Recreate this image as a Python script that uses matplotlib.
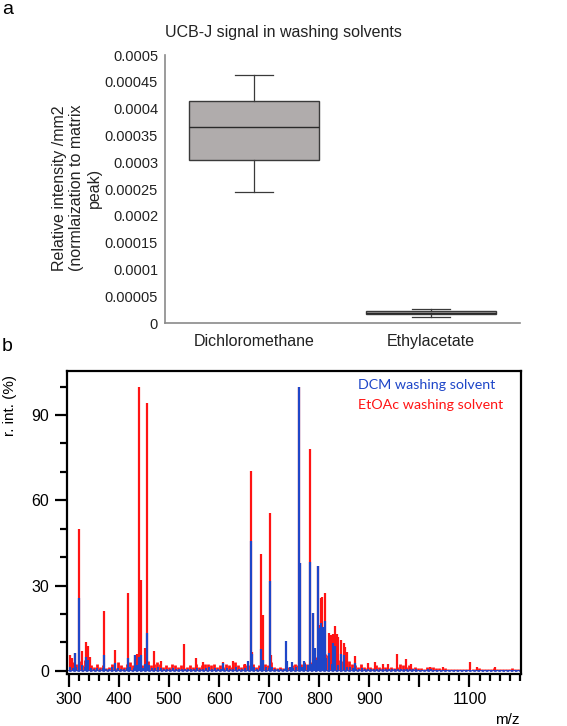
import numpy as np
import matplotlib
matplotlib.use("Agg")
import matplotlib.pyplot as plt
from matplotlib.ticker import MultipleLocator, FixedLocator, FuncFormatter

plt.rcParams['font.family'] = ['Liberation Sans', 'DejaVu Sans']

# ---- panel a: box plot stats
solvents = ['Dichloromethane', 'Ethylacetate']
whislo = [0.000244, 0.0000118]
q1 = [0.000304, 0.0000162]
med = [0.000366, 0.0000195]
q3 = [0.000414, 0.0000224]
whishi = [0.000463, 0.0000256]

# ---- panel b: spectrum peaks (m/z, r. int. %)
dcm_mz = [313, 320.7, 334.7, 338, 370, 393, 419, 431, 440, 443, 451, 456.7,
          608, 658, 663, 666, 684, 686.7, 700.7, 732.7, 736, 745, 758.7, 762,
          770, 782, 787.3, 791, 796.7, 801, 804, 808, 811.3, 819, 827, 831,
          842.7, 849, 872]
dcm_int = [6.4, 25.5, 5.0, 4.0, 5.6, 2.7, 4.5, 5.6, 5.0, 5.5, 2.5, 13.2,
           2.9, 3.6, 45.7, 6.0, 7.7, 4.0, 31.6, 10.5, 3.5, 3.3, 100, 38,
           3.5, 38.4, 20.3, 8.0, 36.8, 15.0, 16.8, 15.5, 17.6, 6.2, 9.7, 8.9,
           5.9, 5.6, 2.7]

etoac_mz = [302.7, 306, 313, 320.7, 326.7, 334.7, 338, 342, 370, 393, 419, 431,
            435, 440, 443.3, 451, 456.7, 469.3, 484, 530, 553, 568, 608, 628,
            651, 663, 666, 684, 686.7, 700.7, 704, 758.7, 762, 782, 787.3, 796.7,
            801, 804, 806, 811.3, 819, 823, 827, 831, 835, 838, 842.7, 849,
            852, 855, 872, 898, 910.7, 926.7, 936.7, 956, 973, 982.7, 1021,
            1048, 1100.7, 1114.7, 1150]
etoac_int = [5.6, 4.5, 6.4, 49.8, 7.0, 10.3, 8.6, 5.0, 21.2, 7.4, 27.5, 5.6,
             6.0, 100, 31.8, 8.1, 94.3, 7.0, 3.6, 9.4, 4.5, 3.3, 3.3, 3.6,
             2.5, 70.4, 6.5, 41.1, 19.6, 55.4, 5.5, 100, 38, 78.2, 20.3, 36.8,
             16.0, 25.8, 26.0, 27.5, 13.2, 12.5, 13.0, 15.8, 13.0, 12.0, 10.9, 9.7,
             8.5, 6.8, 5.4, 2.9, 3.2, 2.5, 2.5, 6.0, 4.2, 2.3, 1.5,
             1.2, 3.3, 1.2, 1.5]

# small baseline peaks, one every 6 m/z from 302
noise_start, noise_step = 302, 6
etoac_noise = [4.5, 3.0, 2.5, 3.5, 2.0, 4.0, 3.5, 2.0, 1.5, 2.5,
               1.5, 2.0, 1.0, 1.5, 2.5, 1.0, 3.0, 2.0, 1.5, 2.5,
               3.0, 2.0, 4.5, 3.5, 2.0, 2.5, 3.5, 2.0, 2.5, 3.0,
               2.5, 1.5, 2.0, 1.5, 2.5, 2.0, 1.5, 2.0, 1.0, 1.5,
               2.0, 1.5, 2.5, 1.5, 2.0, 2.5, 2.5, 2.0, 2.5, 1.5,
               2.0, 1.5, 2.5, 2.0, 1.5, 3.0, 2.0, 1.5, 2.5, 2.0,
               2.0, 2.5, 1.5, 2.0, 1.5, 2.5, 2.0, 3.0, 1.5, 1.0,
               1.5, 1.0, 2.0, 1.5, 2.0, 2.5, 2.0, 2.5, 3.0, 2.5,
               3.0, 4.0, 5.0, 4.5, 5.0, 6.0, 5.5, 4.0, 5.0, 4.5,
               4.0, 3.5, 3.0, 3.5, 2.5, 2.0, 1.5, 2.5, 1.5, 1.0,
               1.5, 1.0, 2.0, 1.5, 1.0, 1.5, 1.0, 1.5, 1.0, 1.5,
               2.5, 2.0, 1.5, 2.0, 1.0, 1.5, 1.0, 1.0, 0.8, 1.5,
               1.5, 1.2, 1.0, 1.0, 0.8, 1.0, 0.6, 0.8, 0.7, 0.5,
               0.6, 0.5, 0.8, 0.7, 0.6, 0.8, 1.0, 0.6, 0.5, 0.7,
               0.8, 1.0, 0.6, 0.5, 0.7, 0.8, 0.6, 0.9, 0.7, 0.6]
dcm_noise = [1.5, 1.0, 1.5, 1.0, 2.0, 1.5, 2.5, 1.0, 0.8, 1.0,
             0.8, 1.0, 0.5, 0.8, 1.5, 0.6, 1.0, 0.8, 0.6, 1.0,
             1.5, 1.0, 2.0, 2.5, 1.0, 1.5, 2.0, 1.0, 1.0, 1.5,
             1.0, 0.6, 0.8, 0.6, 1.0, 0.8, 0.6, 0.8, 0.5, 0.6,
             0.8, 0.6, 1.0, 0.6, 0.8, 1.0, 1.2, 0.8, 1.0, 0.6,
             0.8, 0.6, 1.0, 0.8, 0.6, 1.2, 0.8, 0.6, 1.0, 1.5,
             1.0, 1.2, 0.6, 1.0, 0.6, 1.2, 1.0, 1.5, 0.6, 0.5,
             0.6, 0.5, 1.0, 1.5, 1.0, 1.5, 1.0, 1.5, 2.5, 2.0,
             2.5, 3.0, 4.0, 3.5, 4.0, 4.5, 3.0, 2.5, 3.0, 2.0,
             2.0, 1.5, 1.2, 1.5, 1.0, 0.8, 0.6, 1.0, 0.6, 0.5,
             0.6, 0.5, 0.8, 0.6, 0.5, 0.6, 0.5, 0.6, 0.5, 0.6,
             0.8, 0.6, 0.5, 0.6, 0.5, 0.5, 0.4, 0.4, 0.3, 0.5,
             0.5, 0.4, 0.4, 0.3, 0.3, 0.4, 0.3, 0.3, 0.3, 0.2,
             0.3, 0.2, 0.3, 0.3, 0.2, 0.3, 0.4, 0.3, 0.2, 0.3,
             0.3, 0.4, 0.3, 0.2, 0.3, 0.3, 0.2, 0.3, 0.3, 0.2]

xtick_vals = [300, 400, 500, 600, 700, 800, 900, 1000, 1100]
xtick_labels = ['300', '400', '500', '600', '700', '800', '900', '', '1100']

RED = '#ff1414'
BLUE = '#1e46c8'

fig = plt.figure(figsize=(5.67, 7.26), dpi=100)

# ================= panel a
ax1 = fig.add_axes([0.291, 0.555, 0.626, 0.369])
stats = []
for i in range(len(solvents)):
    stats.append(dict(med=med[i], q1=q1[i], q3=q3[i],
                      whislo=whislo[i], whishi=whishi[i], fliers=[]))
ax1.bxp(stats, positions=[1, 2], widths=0.73, capwidths=0.215,
        patch_artist=True, showfliers=False,
        boxprops=dict(facecolor='#b0acac', edgecolor='#3a3a3a', linewidth=1.0),
        medianprops=dict(color='#2a2a2a', linewidth=1.0),
        whiskerprops=dict(color='#3a3a3a', linewidth=0.9),
        capprops=dict(color='#3a3a3a', linewidth=0.9))
ax1.set_xlim(0.5, 2.5)
ax1.set_ylim(0, 0.0005)
ax1.yaxis.set_major_locator(MultipleLocator(0.00005))


def fmt_a(v, pos):
    if abs(v) < 1e-12:
        return '0'
    return ('%.5f' % v).rstrip('0').rstrip('.')


ax1.yaxis.set_major_formatter(FuncFormatter(fmt_a))
ax1.set_xticks([1, 2])
ax1.set_xticklabels(solvents)
ax1.tick_params(axis='y', length=0, pad=5, labelsize=10.5, colors='#222222')
ax1.tick_params(axis='x', length=0, pad=8, labelsize=11.5, colors='#222222')
for s in ['top', 'right']:
    ax1.spines[s].set_visible(False)
for s in ['left', 'bottom']:
    ax1.spines[s].set_color('#8a8a8a')
    ax1.spines[s].set_linewidth(1.2)

fig.text(283 / 567, 1 - 32 / 726, 'UCB-J signal in washing solvents',
         ha='center', va='center', fontsize=11.5, color='#222222')
fig.text(77 / 567, 1 - 188 / 726,
         'Relative intensity /mm2\n(normlaization to matrix\npeak)',
         rotation=90, ha='center', va='center', multialignment='center',
         fontsize=11.5, color='#222222', linespacing=1.2)
fig.text(2 / 567, 1 - 9 / 726, 'a', ha='left', va='center', fontsize=14)

# ================= panel b
ax2 = fig.add_axes([0.118, 0.0712, 0.801, 0.4178])
nz_mz = noise_start + noise_step * np.arange(len(etoac_noise))
ax2.vlines(nz_mz, 0, etoac_noise, color=RED, lw=2.0)
ax2.vlines(etoac_mz, 0, etoac_int, color=RED, lw=1.6)
ax2.vlines(nz_mz + 1, 0, dcm_noise, color=BLUE, lw=1.4)
ax2.vlines(dcm_mz, 0, dcm_int, color=BLUE, lw=1.6)
ax2.axhline(0, color=BLUE, lw=1.2)
ax2.axhline(0, color='white', lw=0.6, ls=(0, (2, 3)))

ax2.set_xlim(296, 1203)
ax2.set_ylim(-1.2, 105.5)
ax2.xaxis.set_major_locator(FixedLocator(xtick_vals))
ax2.set_xticklabels(xtick_labels)
ax2.xaxis.set_minor_locator(MultipleLocator(20))
ax2.yaxis.set_major_locator(MultipleLocator(30))
ax2.yaxis.set_minor_locator(MultipleLocator(10))
ax2.tick_params(which='major', length=9, width=1.6, labelsize=11.5, pad=4)
ax2.tick_params(which='minor', length=5, width=1.6)
for s in ax2.spines.values():
    s.set_linewidth(1.6)

ax2.text(0.641, 0.954, 'DCM washing solvent', color=BLUE, transform=ax2.transAxes,
         ha='left', va='center', fontsize=10.3, family=['Lato', 'DejaVu Sans'])
ax2.text(0.641, 0.888, 'EtOAc washing solvent', color=RED, transform=ax2.transAxes,
         ha='left', va='center', fontsize=10.3, family=['Lato', 'DejaVu Sans'])

fig.text(10 / 567, 1 - 405 / 726, 'r. int. (%)', rotation=90,
         ha='center', va='center', fontsize=11)
fig.text(507 / 567, 1 - 720 / 726, 'm/z', ha='center', va='center', fontsize=11)
fig.text(2 / 567, 1 - 346 / 726, 'b', ha='left', va='center', fontsize=14)

fig.savefig('out.png', dpi=100)
